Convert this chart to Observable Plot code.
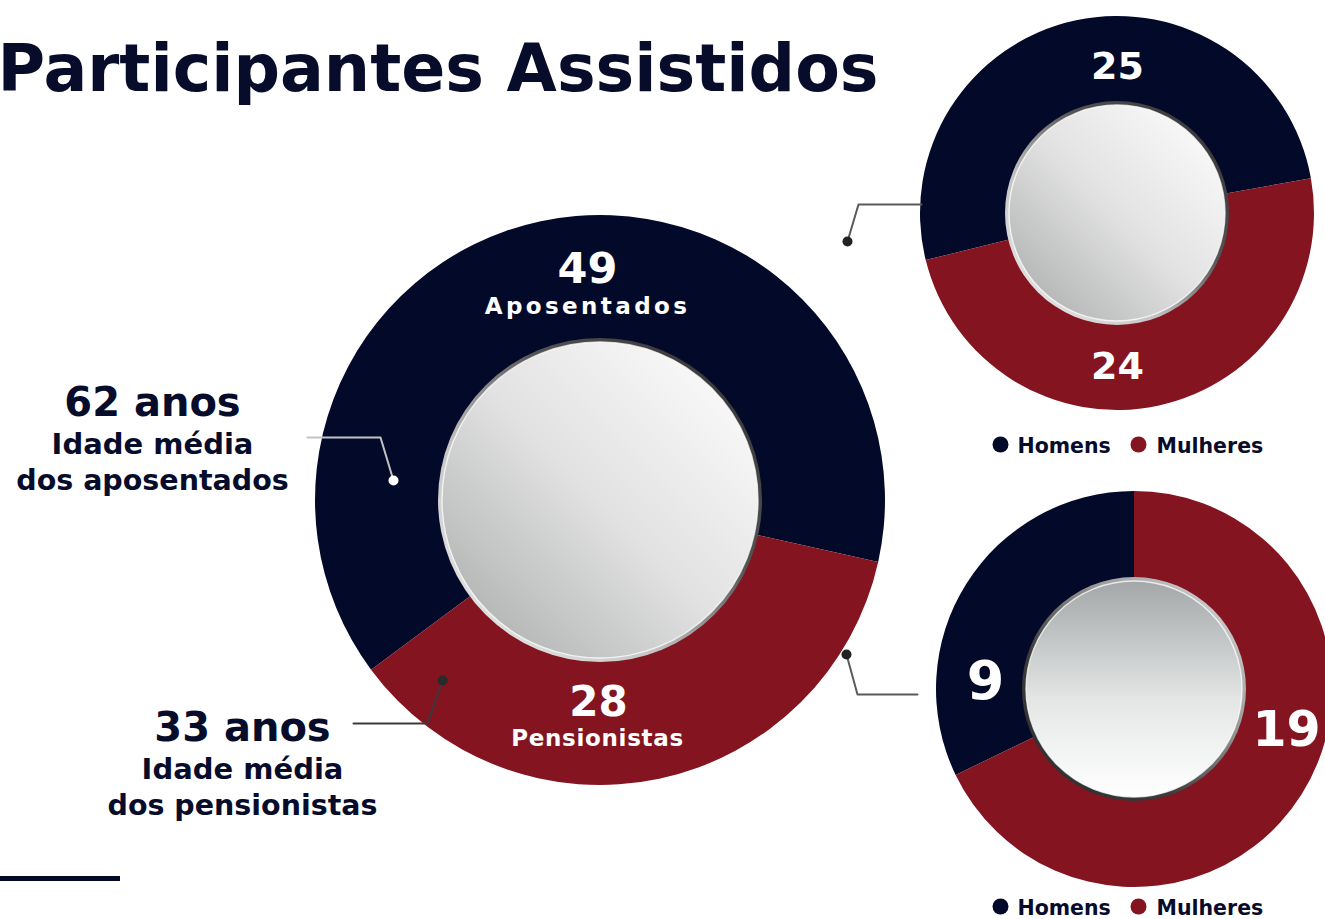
<!DOCTYPE html>
<html>
<head>
<meta charset="utf-8">
<script src="https://cdn.jsdelivr.net/npm/d3@7"></script>
<script src="https://cdn.jsdelivr.net/npm/@observablehq/plot@0.6"></script>
<style>
  html, body { margin: 0; padding: 0; background: #ffffff; overflow: hidden; }
  #chart svg { display: block; }
</style>
</head>
<body>
<div id="chart"></div>
<script>
// ---------------- data ----------------
const title = "Participantes Assistidos";
const groups = ["Aposentados", "Pensionistas"];
const groupCounts = [49, 28];
const genders = ["Homens", "Mulheres"];
const aposentadosByGender = [25, 24];   // Homens, Mulheres
const pensionistasByGender = [9, 19];   // Homens, Mulheres
const averageAges = [62, 33];           // aposentados, pensionistas
const ageUnit = "anos";
const ageCaption = "Idade média";
const ageSubjects = ["dos aposentados", "dos pensionistas"];

// ---------------- style / layout ----------------
const W = 1325, H = 919;
const NAVY = "#030a29", RED = "#84141f", INK = "#070c2b";
const FONT = "DejaVu Sans, Verdana, sans-serif";

const DONUTS = {
  big:    {cx: 600,  cy: 500, R: 285, r: 162, redCenterDeg: 168, rim: "rimDiag", fill: "fillDiag"},
  top:    {cx: 1117, cy: 213, R: 197, r: 112, redCenterDeg: 168, rim: "rimDiag", fill: "fillDiag"},
  bottom: {cx: 1134, cy: 689, R: 198, r: 112, redStartDeg: 0,    rim: "rimVert", fill: "fillVert"}
};

// build slice tables from the arrays
const bigSlices = groups.map((g, i) => ({key: g, value: groupCounts[i]}));
const topSlices = genders.map((g, i) => ({key: g, value: aposentadosByGender[i]}));
const bottomSlices = genders.map((g, i) => ({key: g, value: pensionistasByGender[i]}));

const rad = (d) => d * Math.PI / 180;

// start angle so that the second slice (red) is centred on a given direction
function startCentered(slices, deg) {
  const total = d3.sum(slices, d => d.value);
  const a0 = slices[0].value / total * 360;
  const a1 = slices[1].value / total * 360;
  return rad(deg - a0 - a1 / 2);
}
// start angle so that the second slice (red) begins at a given direction
function startAtSecond(slices, deg) {
  const total = d3.sum(slices, d => d.value);
  return rad(deg - slices[0].value / total * 360);
}

function donutMark(spec, slices, start) {
  return (index, scales) => {
    const g = d3.create("svg:g");
    const cx = scales.x(spec.cx), cy = scales.y(spec.cy);
    const R = scales.x(spec.cx + spec.R) - cx;
    const r = scales.x(spec.cx + spec.r) - cx;
    const defs = g.append("defs");
    const uid = "d" + Math.round(spec.cx) + "_" + Math.round(spec.cy);

    const mk = (id, x1, y1, x2, y2, stops) => {
      const lg = defs.append("linearGradient").attr("id", uid + id)
        .attr("x1", x1).attr("y1", y1).attr("x2", x2).attr("y2", y2);
      stops.forEach(([o, c]) => lg.append("stop").attr("offset", o).attr("stop-color", c));
    };
    mk("rimDiag", 0, 1, 1, 0, [[0, "#f2f2f2"], [0.35, "#c4c4c4"], [0.62, "#555555"], [1, "#2b2b2b"]]);
    mk("fillDiag", 0, 1, 1, 0, [[0, "#a6a8a8"], [0.5, "#e2e2e2"], [1, "#ffffff"]]);
    mk("rimVert", 1, 0, 0, 1, [[0, "#e4e4e4"], [0.35, "#9a9a9a"], [0.65, "#3c3c3c"], [1, "#2a2a2a"]]);
    mk("fillVert", 0, 0, 0, 1, [[0, "#a3a7a7"], [0.55, "#e4e6e6"], [1, "#ffffff"]]);

    const pie = d3.pie().sort(null).value(d => d.value)
      .startAngle(start).endAngle(start + 2 * Math.PI);
    const arc = d3.arc().innerRadius(r - 4).outerRadius(R);
    const gg = g.append("g").attr("transform", `translate(${cx},${cy})`);
    gg.selectAll("path.slice").data(pie(slices)).join("path")
      .attr("class", "slice")
      .attr("d", arc)
      .attr("fill", d => scales.color(d.data.key));
    gg.append("circle").attr("r", r).attr("fill", `url(#${uid}${spec.rim})`);
    gg.append("circle").attr("r", r - 4).attr("fill", `url(#${uid}${spec.fill})`)
      .attr("stroke", "#ffffff").attr("stroke-opacity", 0.75).attr("stroke-width", 1.4);
    return g.node();
  };
}

// annotation layout (pixel positions of labels and leaders)
const countLabels = [
  {text: String(groupCounts[0]), x: 587, y: 282, size: 43},
  {text: String(groupCounts[1]), x: 598, y: 715, size: 42},
  {text: String(aposentadosByGender[0]), x: 1117, y: 78, size: 38},
  {text: String(aposentadosByGender[1]), x: 1117, y: 378, size: 38},
  {text: String(pensionistasByGender[0]), x: 985, y: 698, size: 54},
  {text: String(pensionistasByGender[1]), x: 1286, y: 745, size: 49}
];
const nameLabels = [
  {text: groups[0], x: 587, y: 313, size: 23},
  {text: groups[1], x: 597, y: 745, size: 23}
];
const ageBlocks = [
  {x: 152, y: 415, lines: [`${averageAges[0]} ${ageUnit}`, ageCaption, ageSubjects[0]]},
  {x: 242, y: 740, lines: [`${averageAges[1]} ${ageUnit}`, ageCaption, ageSubjects[1]]}
];
const ageLines = ageBlocks.flatMap(b => [
  {text: b.lines[0], x: b.x, y: b.y, size: 40},
  {text: b.lines[1], x: b.x, y: b.y + 38, size: 29},
  {text: b.lines[2], x: b.x, y: b.y + 74, size: 28.5}
]);
const legendRows = [444, 906];
const legendItems = legendRows.flatMap(y => [
  {key: genders[0], dx: 1000, tx: 1017, y},
  {key: genders[1], dx: 1138, tx: 1156, y}
]);

const leaders = [
  {pts: [[307, 437], [380, 437], [393, 480]], stroke: "#c3c3c3", dot: [393, 480], dotFill: "#ffffff"},
  {pts: [[353, 723], [427, 723], [442, 680]], stroke: "#3a3a3a", dot: [442, 680], dotFill: "#2a2a2a"},
  {pts: [[921, 204], [858, 204], [847, 241]], stroke: "#5a5a5a", dot: [847, 241], dotFill: "#222222"},
  {pts: [[917, 694], [857, 694], [846, 654]], stroke: "#5a5a5a", dot: [846, 654], dotFill: "#222222"}
];

const chart = Plot.plot({
  width: W,
  height: H,
  margin: 0,
  style: {background: "#ffffff", overflow: "visible"},
  x: {domain: [0, W], range: [0, W], axis: null},
  y: {domain: [0, H], range: [0, H], axis: null},
  color: {type: "ordinal", domain: [...genders, ...groups], range: [NAVY, RED, NAVY, RED]},
  marks: [
    donutMark(DONUTS.big, bigSlices, startCentered(bigSlices, DONUTS.big.redCenterDeg)),
    donutMark(DONUTS.top, topSlices, startCentered(topSlices, DONUTS.top.redCenterDeg)),
    donutMark(DONUTS.bottom, bottomSlices, startAtSecond(bottomSlices, 360 + DONUTS.bottom.redStartDeg)),
    // leaders
    ...leaders.map(l => Plot.line(l.pts, {x: d => d[0], y: d => d[1], stroke: l.stroke, strokeWidth: 2})),
    ...leaders.map(l => Plot.dot([l.dot], {x: d => d[0], y: d => d[1], r: 5, fill: l.dotFill, stroke: null})),
    // title
    Plot.text([title], {x: -3, y: 90, text: d => d, textAnchor: "start", lineAnchor: "bottom",
      fontSize: 65, fontWeight: "bold", fontFamily: FONT, fill: INK}),
    // counts
    Plot.text(countLabels, {x: "x", y: "y", text: "text", fontSize: d => d.size, lineAnchor: "bottom",
      fontWeight: "bold", fontFamily: FONT, fill: "#ffffff"}),
    Plot.text(nameLabels, {x: "x", y: "y", text: "text", fontSize: 23, lineAnchor: "bottom",
      fontWeight: "bold", fontFamily: FONT, fill: "#ffffff"}),
    // age annotations
    Plot.text(ageLines, {x: "x", y: "y", text: "text", fontSize: d => d.size, lineAnchor: "bottom",
      fontWeight: "bold", fontFamily: FONT, fill: INK}),
    // legends
    Plot.dot(legendItems, {x: "dx", y: "y", r: 8, fill: "key", stroke: null}),
    Plot.text(legendItems, {x: "tx", y: d => d.y + 8, text: "key", textAnchor: "start", lineAnchor: "bottom",
      fontSize: 20.5, fontWeight: "bold", fontFamily: FONT, fill: INK}),
    // decorative rule bottom-left
    Plot.ruleY([878], {x1: 0, x2: 120, stroke: NAVY, strokeWidth: 5})
  ]
});

// letter spacing tweaks for the white group names
chart.querySelectorAll("text").forEach(t => {
  if (t.textContent === groups[0]) t.setAttribute("letter-spacing", "3.4");
  if (t.textContent === groups[1]) t.setAttribute("letter-spacing", "0.7");
});

document.getElementById("chart").appendChild(chart);
</script>
</body>
</html>
